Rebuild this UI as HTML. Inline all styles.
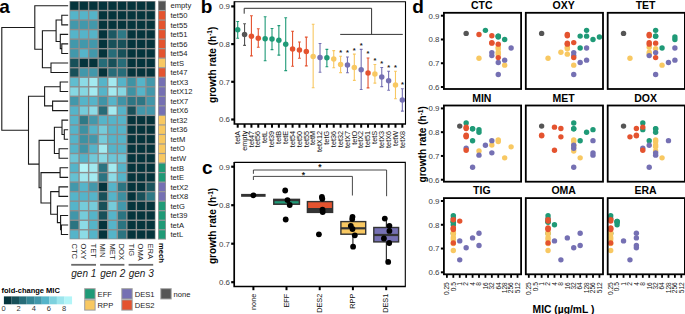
<!DOCTYPE html>
<html><head><meta charset="utf-8"><style>
html,body{margin:0;padding:0;background:#fff;width:685px;height:314px;overflow:hidden;}
svg{display:block;font-family:"Liberation Sans", sans-serif;}
</style></head><body>
<svg width="685" height="314" viewBox="0 0 685 314">
<rect width="685" height="314" fill="#fff"/>
<rect x="69.5" y="1.0" width="86.0" height="238.3" fill="#8d8d8d"/>
<rect x="70.20" y="1.70" width="8.16" height="8.13" fill="#05343c"/>
<rect x="79.76" y="1.70" width="8.16" height="8.13" fill="#05343c"/>
<rect x="89.31" y="1.70" width="8.16" height="8.13" fill="#05343c"/>
<rect x="98.87" y="1.70" width="8.16" height="8.13" fill="#05343c"/>
<rect x="108.42" y="1.70" width="8.16" height="8.13" fill="#05343c"/>
<rect x="117.98" y="1.70" width="8.16" height="8.13" fill="#05343c"/>
<rect x="127.53" y="1.70" width="8.16" height="8.13" fill="#05343c"/>
<rect x="137.09" y="1.70" width="8.16" height="8.13" fill="#05343c"/>
<rect x="146.64" y="1.70" width="8.16" height="8.13" fill="#05343c"/>
<rect x="70.20" y="11.23" width="8.16" height="8.13" fill="#55b4c9"/>
<rect x="79.76" y="11.23" width="8.16" height="8.13" fill="#55b4c9"/>
<rect x="89.31" y="11.23" width="8.16" height="8.13" fill="#55b4c9"/>
<rect x="98.87" y="11.23" width="8.16" height="8.13" fill="#05343c"/>
<rect x="108.42" y="11.23" width="8.16" height="8.13" fill="#05343c"/>
<rect x="117.98" y="11.23" width="8.16" height="8.13" fill="#05343c"/>
<rect x="127.53" y="11.23" width="8.16" height="8.13" fill="#05343c"/>
<rect x="137.09" y="11.23" width="8.16" height="8.13" fill="#05343c"/>
<rect x="146.64" y="11.23" width="8.16" height="8.13" fill="#05343c"/>
<rect x="70.20" y="20.76" width="8.16" height="8.13" fill="#4298ab"/>
<rect x="79.76" y="20.76" width="8.16" height="8.13" fill="#4298ab"/>
<rect x="89.31" y="20.76" width="8.16" height="8.13" fill="#4298ab"/>
<rect x="98.87" y="20.76" width="8.16" height="8.13" fill="#05343c"/>
<rect x="108.42" y="20.76" width="8.16" height="8.13" fill="#05343c"/>
<rect x="117.98" y="20.76" width="8.16" height="8.13" fill="#05343c"/>
<rect x="127.53" y="20.76" width="8.16" height="8.13" fill="#05343c"/>
<rect x="137.09" y="20.76" width="8.16" height="8.13" fill="#05343c"/>
<rect x="146.64" y="20.76" width="8.16" height="8.13" fill="#05343c"/>
<rect x="70.20" y="30.30" width="8.16" height="8.13" fill="#55b4c9"/>
<rect x="79.76" y="30.30" width="8.16" height="8.13" fill="#55b4c9"/>
<rect x="89.31" y="30.30" width="8.16" height="8.13" fill="#55b4c9"/>
<rect x="98.87" y="30.30" width="8.16" height="8.13" fill="#05343c"/>
<rect x="108.42" y="30.30" width="8.16" height="8.13" fill="#1c5862"/>
<rect x="117.98" y="30.30" width="8.16" height="8.13" fill="#2e7986"/>
<rect x="127.53" y="30.30" width="8.16" height="8.13" fill="#05343c"/>
<rect x="137.09" y="30.30" width="8.16" height="8.13" fill="#05343c"/>
<rect x="146.64" y="30.30" width="8.16" height="8.13" fill="#05343c"/>
<rect x="70.20" y="39.83" width="8.16" height="8.13" fill="#4298ab"/>
<rect x="79.76" y="39.83" width="8.16" height="8.13" fill="#4298ab"/>
<rect x="89.31" y="39.83" width="8.16" height="8.13" fill="#4298ab"/>
<rect x="98.87" y="39.83" width="8.16" height="8.13" fill="#05343c"/>
<rect x="108.42" y="39.83" width="8.16" height="8.13" fill="#185059"/>
<rect x="117.98" y="39.83" width="8.16" height="8.13" fill="#185059"/>
<rect x="127.53" y="39.83" width="8.16" height="8.13" fill="#05343c"/>
<rect x="137.09" y="39.83" width="8.16" height="8.13" fill="#05343c"/>
<rect x="146.64" y="39.83" width="8.16" height="8.13" fill="#05343c"/>
<rect x="70.20" y="49.36" width="8.16" height="8.13" fill="#4298ab"/>
<rect x="79.76" y="49.36" width="8.16" height="8.13" fill="#55b4c9"/>
<rect x="89.31" y="49.36" width="8.16" height="8.13" fill="#4298ab"/>
<rect x="98.87" y="49.36" width="8.16" height="8.13" fill="#05343c"/>
<rect x="108.42" y="49.36" width="8.16" height="8.13" fill="#276c78"/>
<rect x="117.98" y="49.36" width="8.16" height="8.13" fill="#185059"/>
<rect x="127.53" y="49.36" width="8.16" height="8.13" fill="#05343c"/>
<rect x="137.09" y="49.36" width="8.16" height="8.13" fill="#05343c"/>
<rect x="146.64" y="49.36" width="8.16" height="8.13" fill="#05343c"/>
<rect x="70.20" y="58.89" width="8.16" height="8.13" fill="#185059"/>
<rect x="79.76" y="58.89" width="8.16" height="8.13" fill="#05343c"/>
<rect x="89.31" y="58.89" width="8.16" height="8.13" fill="#05343c"/>
<rect x="98.87" y="58.89" width="8.16" height="8.13" fill="#276c78"/>
<rect x="108.42" y="58.89" width="8.16" height="8.13" fill="#185059"/>
<rect x="117.98" y="58.89" width="8.16" height="8.13" fill="#276c78"/>
<rect x="127.53" y="58.89" width="8.16" height="8.13" fill="#05343c"/>
<rect x="137.09" y="58.89" width="8.16" height="8.13" fill="#05343c"/>
<rect x="146.64" y="58.89" width="8.16" height="8.13" fill="#05343c"/>
<rect x="70.20" y="68.42" width="8.16" height="8.13" fill="#185059"/>
<rect x="79.76" y="68.42" width="8.16" height="8.13" fill="#4298ab"/>
<rect x="89.31" y="68.42" width="8.16" height="8.13" fill="#4298ab"/>
<rect x="98.87" y="68.42" width="8.16" height="8.13" fill="#05343c"/>
<rect x="108.42" y="68.42" width="8.16" height="8.13" fill="#276c78"/>
<rect x="117.98" y="68.42" width="8.16" height="8.13" fill="#276c78"/>
<rect x="127.53" y="68.42" width="8.16" height="8.13" fill="#05343c"/>
<rect x="137.09" y="68.42" width="8.16" height="8.13" fill="#05343c"/>
<rect x="146.64" y="68.42" width="8.16" height="8.13" fill="#05343c"/>
<rect x="70.20" y="77.96" width="8.16" height="8.13" fill="#61bdcf"/>
<rect x="79.76" y="77.96" width="8.16" height="8.13" fill="#8cdbe6"/>
<rect x="89.31" y="77.96" width="8.16" height="8.13" fill="#a3eaf0"/>
<rect x="98.87" y="77.96" width="8.16" height="8.13" fill="#55b4c9"/>
<rect x="108.42" y="77.96" width="8.16" height="8.13" fill="#a3eaf0"/>
<rect x="117.98" y="77.96" width="8.16" height="8.13" fill="#55b4c9"/>
<rect x="127.53" y="77.96" width="8.16" height="8.13" fill="#3e93a4"/>
<rect x="137.09" y="77.96" width="8.16" height="8.13" fill="#55b4c9"/>
<rect x="146.64" y="77.96" width="8.16" height="8.13" fill="#4298ab"/>
<rect x="70.20" y="87.49" width="8.16" height="8.13" fill="#86d7e2"/>
<rect x="79.76" y="87.49" width="8.16" height="8.13" fill="#86d7e2"/>
<rect x="89.31" y="87.49" width="8.16" height="8.13" fill="#a3eaf0"/>
<rect x="98.87" y="87.49" width="8.16" height="8.13" fill="#55b4c9"/>
<rect x="108.42" y="87.49" width="8.16" height="8.13" fill="#a3eaf0"/>
<rect x="117.98" y="87.49" width="8.16" height="8.13" fill="#86d7e2"/>
<rect x="127.53" y="87.49" width="8.16" height="8.13" fill="#3e93a4"/>
<rect x="137.09" y="87.49" width="8.16" height="8.13" fill="#55b4c9"/>
<rect x="146.64" y="87.49" width="8.16" height="8.13" fill="#4298ab"/>
<rect x="70.20" y="97.02" width="8.16" height="8.13" fill="#4298ab"/>
<rect x="79.76" y="97.02" width="8.16" height="8.13" fill="#55b4c9"/>
<rect x="89.31" y="97.02" width="8.16" height="8.13" fill="#55b4c9"/>
<rect x="98.87" y="97.02" width="8.16" height="8.13" fill="#3f94a7"/>
<rect x="108.42" y="97.02" width="8.16" height="8.13" fill="#55b4c9"/>
<rect x="117.98" y="97.02" width="8.16" height="8.13" fill="#3f94a7"/>
<rect x="127.53" y="97.02" width="8.16" height="8.13" fill="#2d7684"/>
<rect x="137.09" y="97.02" width="8.16" height="8.13" fill="#2d7684"/>
<rect x="146.64" y="97.02" width="8.16" height="8.13" fill="#4196a9"/>
<rect x="70.20" y="106.55" width="8.16" height="8.13" fill="#55b4c9"/>
<rect x="79.76" y="106.55" width="8.16" height="8.13" fill="#75cbda"/>
<rect x="89.31" y="106.55" width="8.16" height="8.13" fill="#8cdbe6"/>
<rect x="98.87" y="106.55" width="8.16" height="8.13" fill="#276c78"/>
<rect x="108.42" y="106.55" width="8.16" height="8.13" fill="#a3eaf0"/>
<rect x="117.98" y="106.55" width="8.16" height="8.13" fill="#55b4c9"/>
<rect x="127.53" y="106.55" width="8.16" height="8.13" fill="#185059"/>
<rect x="137.09" y="106.55" width="8.16" height="8.13" fill="#4298ab"/>
<rect x="146.64" y="106.55" width="8.16" height="8.13" fill="#4298ab"/>
<rect x="70.20" y="116.08" width="8.16" height="8.13" fill="#55b4c9"/>
<rect x="79.76" y="116.08" width="8.16" height="8.13" fill="#2e7986"/>
<rect x="89.31" y="116.08" width="8.16" height="8.13" fill="#4298ab"/>
<rect x="98.87" y="116.08" width="8.16" height="8.13" fill="#55b4c9"/>
<rect x="108.42" y="116.08" width="8.16" height="8.13" fill="#55b4c9"/>
<rect x="117.98" y="116.08" width="8.16" height="8.13" fill="#55b4c9"/>
<rect x="127.53" y="116.08" width="8.16" height="8.13" fill="#05343c"/>
<rect x="137.09" y="116.08" width="8.16" height="8.13" fill="#05343c"/>
<rect x="146.64" y="116.08" width="8.16" height="8.13" fill="#05343c"/>
<rect x="70.20" y="125.62" width="8.16" height="8.13" fill="#55b4c9"/>
<rect x="79.76" y="125.62" width="8.16" height="8.13" fill="#3d91a2"/>
<rect x="89.31" y="125.62" width="8.16" height="8.13" fill="#55b4c9"/>
<rect x="98.87" y="125.62" width="8.16" height="8.13" fill="#75cbda"/>
<rect x="108.42" y="125.62" width="8.16" height="8.13" fill="#55b4c9"/>
<rect x="117.98" y="125.62" width="8.16" height="8.13" fill="#55b4c9"/>
<rect x="127.53" y="125.62" width="8.16" height="8.13" fill="#05343c"/>
<rect x="137.09" y="125.62" width="8.16" height="8.13" fill="#05343c"/>
<rect x="146.64" y="125.62" width="8.16" height="8.13" fill="#05343c"/>
<rect x="70.20" y="135.15" width="8.16" height="8.13" fill="#55b4c9"/>
<rect x="79.76" y="135.15" width="8.16" height="8.13" fill="#3d91a2"/>
<rect x="89.31" y="135.15" width="8.16" height="8.13" fill="#4298ab"/>
<rect x="98.87" y="135.15" width="8.16" height="8.13" fill="#75cbda"/>
<rect x="108.42" y="135.15" width="8.16" height="8.13" fill="#55b4c9"/>
<rect x="117.98" y="135.15" width="8.16" height="8.13" fill="#55b4c9"/>
<rect x="127.53" y="135.15" width="8.16" height="8.13" fill="#05343c"/>
<rect x="137.09" y="135.15" width="8.16" height="8.13" fill="#05343c"/>
<rect x="146.64" y="135.15" width="8.16" height="8.13" fill="#05343c"/>
<rect x="70.20" y="144.68" width="8.16" height="8.13" fill="#55b4c9"/>
<rect x="79.76" y="144.68" width="8.16" height="8.13" fill="#3f94a7"/>
<rect x="89.31" y="144.68" width="8.16" height="8.13" fill="#55b4c9"/>
<rect x="98.87" y="144.68" width="8.16" height="8.13" fill="#a3eaf0"/>
<rect x="108.42" y="144.68" width="8.16" height="8.13" fill="#55b4c9"/>
<rect x="117.98" y="144.68" width="8.16" height="8.13" fill="#55b4c9"/>
<rect x="127.53" y="144.68" width="8.16" height="8.13" fill="#05343c"/>
<rect x="137.09" y="144.68" width="8.16" height="8.13" fill="#05343c"/>
<rect x="146.64" y="144.68" width="8.16" height="8.13" fill="#05343c"/>
<rect x="70.20" y="154.21" width="8.16" height="8.13" fill="#6dc5d6"/>
<rect x="79.76" y="154.21" width="8.16" height="8.13" fill="#55b4c9"/>
<rect x="89.31" y="154.21" width="8.16" height="8.13" fill="#71c8d8"/>
<rect x="98.87" y="154.21" width="8.16" height="8.13" fill="#89d9e4"/>
<rect x="108.42" y="154.21" width="8.16" height="8.13" fill="#6dc5d6"/>
<rect x="117.98" y="154.21" width="8.16" height="8.13" fill="#6dc5d6"/>
<rect x="127.53" y="154.21" width="8.16" height="8.13" fill="#05343c"/>
<rect x="137.09" y="154.21" width="8.16" height="8.13" fill="#05343c"/>
<rect x="146.64" y="154.21" width="8.16" height="8.13" fill="#05343c"/>
<rect x="70.20" y="163.74" width="8.16" height="8.13" fill="#55b4c9"/>
<rect x="79.76" y="163.74" width="8.16" height="8.13" fill="#b3f5f8"/>
<rect x="89.31" y="163.74" width="8.16" height="8.13" fill="#a1e8ef"/>
<rect x="98.87" y="163.74" width="8.16" height="8.13" fill="#2b7481"/>
<rect x="108.42" y="163.74" width="8.16" height="8.13" fill="#a3eaf0"/>
<rect x="117.98" y="163.74" width="8.16" height="8.13" fill="#55b4c9"/>
<rect x="127.53" y="163.74" width="8.16" height="8.13" fill="#05343c"/>
<rect x="137.09" y="163.74" width="8.16" height="8.13" fill="#05343c"/>
<rect x="146.64" y="163.74" width="8.16" height="8.13" fill="#05343c"/>
<rect x="70.20" y="173.28" width="8.16" height="8.13" fill="#65c0d1"/>
<rect x="79.76" y="173.28" width="8.16" height="8.13" fill="#a1e8ef"/>
<rect x="89.31" y="173.28" width="8.16" height="8.13" fill="#a3eaf0"/>
<rect x="98.87" y="173.28" width="8.16" height="8.13" fill="#2b7481"/>
<rect x="108.42" y="173.28" width="8.16" height="8.13" fill="#8cdbe6"/>
<rect x="117.98" y="173.28" width="8.16" height="8.13" fill="#55b4c9"/>
<rect x="127.53" y="173.28" width="8.16" height="8.13" fill="#05343c"/>
<rect x="137.09" y="173.28" width="8.16" height="8.13" fill="#05343c"/>
<rect x="146.64" y="173.28" width="8.16" height="8.13" fill="#05343c"/>
<rect x="70.20" y="182.81" width="8.16" height="8.13" fill="#4298ab"/>
<rect x="79.76" y="182.81" width="8.16" height="8.13" fill="#55b4c9"/>
<rect x="89.31" y="182.81" width="8.16" height="8.13" fill="#4298ab"/>
<rect x="98.87" y="182.81" width="8.16" height="8.13" fill="#05343c"/>
<rect x="108.42" y="182.81" width="8.16" height="8.13" fill="#55b4c9"/>
<rect x="117.98" y="182.81" width="8.16" height="8.13" fill="#2b7481"/>
<rect x="127.53" y="182.81" width="8.16" height="8.13" fill="#05343c"/>
<rect x="137.09" y="182.81" width="8.16" height="8.13" fill="#05343c"/>
<rect x="146.64" y="182.81" width="8.16" height="8.13" fill="#1a535c"/>
<rect x="70.20" y="192.34" width="8.16" height="8.13" fill="#55b4c9"/>
<rect x="79.76" y="192.34" width="8.16" height="8.13" fill="#55b4c9"/>
<rect x="89.31" y="192.34" width="8.16" height="8.13" fill="#55b4c9"/>
<rect x="98.87" y="192.34" width="8.16" height="8.13" fill="#185059"/>
<rect x="108.42" y="192.34" width="8.16" height="8.13" fill="#55b4c9"/>
<rect x="117.98" y="192.34" width="8.16" height="8.13" fill="#3c8fa0"/>
<rect x="127.53" y="192.34" width="8.16" height="8.13" fill="#05343c"/>
<rect x="137.09" y="192.34" width="8.16" height="8.13" fill="#185059"/>
<rect x="146.64" y="192.34" width="8.16" height="8.13" fill="#2e7986"/>
<rect x="70.20" y="201.87" width="8.16" height="8.13" fill="#55b4c9"/>
<rect x="79.76" y="201.87" width="8.16" height="8.13" fill="#75cbda"/>
<rect x="89.31" y="201.87" width="8.16" height="8.13" fill="#75cbda"/>
<rect x="98.87" y="201.87" width="8.16" height="8.13" fill="#185059"/>
<rect x="108.42" y="201.87" width="8.16" height="8.13" fill="#75cbda"/>
<rect x="117.98" y="201.87" width="8.16" height="8.13" fill="#4298ab"/>
<rect x="127.53" y="201.87" width="8.16" height="8.13" fill="#05343c"/>
<rect x="137.09" y="201.87" width="8.16" height="8.13" fill="#05343c"/>
<rect x="146.64" y="201.87" width="8.16" height="8.13" fill="#05343c"/>
<rect x="70.20" y="211.40" width="8.16" height="8.13" fill="#4196a9"/>
<rect x="79.76" y="211.40" width="8.16" height="8.13" fill="#75cbda"/>
<rect x="89.31" y="211.40" width="8.16" height="8.13" fill="#55b4c9"/>
<rect x="98.87" y="211.40" width="8.16" height="8.13" fill="#185059"/>
<rect x="108.42" y="211.40" width="8.16" height="8.13" fill="#55b4c9"/>
<rect x="117.98" y="211.40" width="8.16" height="8.13" fill="#2b7481"/>
<rect x="127.53" y="211.40" width="8.16" height="8.13" fill="#05343c"/>
<rect x="137.09" y="211.40" width="8.16" height="8.13" fill="#05343c"/>
<rect x="146.64" y="211.40" width="8.16" height="8.13" fill="#05343c"/>
<rect x="70.20" y="220.94" width="8.16" height="8.13" fill="#2b7481"/>
<rect x="79.76" y="220.94" width="8.16" height="8.13" fill="#8cdbe6"/>
<rect x="89.31" y="220.94" width="8.16" height="8.13" fill="#55b4c9"/>
<rect x="98.87" y="220.94" width="8.16" height="8.13" fill="#05343c"/>
<rect x="108.42" y="220.94" width="8.16" height="8.13" fill="#55b4c9"/>
<rect x="117.98" y="220.94" width="8.16" height="8.13" fill="#2b7481"/>
<rect x="127.53" y="220.94" width="8.16" height="8.13" fill="#05343c"/>
<rect x="137.09" y="220.94" width="8.16" height="8.13" fill="#05343c"/>
<rect x="146.64" y="220.94" width="8.16" height="8.13" fill="#05343c"/>
<rect x="70.20" y="230.47" width="8.16" height="8.13" fill="#55b4c9"/>
<rect x="79.76" y="230.47" width="8.16" height="8.13" fill="#8cdbe6"/>
<rect x="89.31" y="230.47" width="8.16" height="8.13" fill="#55b4c9"/>
<rect x="98.87" y="230.47" width="8.16" height="8.13" fill="#05343c"/>
<rect x="108.42" y="230.47" width="8.16" height="8.13" fill="#55b4c9"/>
<rect x="117.98" y="230.47" width="8.16" height="8.13" fill="#2b7481"/>
<rect x="127.53" y="230.47" width="8.16" height="8.13" fill="#05343c"/>
<rect x="137.09" y="230.47" width="8.16" height="8.13" fill="#05343c"/>
<rect x="146.64" y="230.47" width="8.16" height="8.13" fill="#05343c"/>
<rect x="158.0" y="0.7" width="8.0" height="238.9" fill="#9a9a9a"/>
<rect x="158.8" y="1.60" width="6.4" height="8.33" fill="#555555"/>
<rect x="158.8" y="11.13" width="6.4" height="8.33" fill="#e4532f"/>
<rect x="158.8" y="20.66" width="6.4" height="8.33" fill="#e4532f"/>
<rect x="158.8" y="30.20" width="6.4" height="8.33" fill="#e4532f"/>
<rect x="158.8" y="39.73" width="6.4" height="8.33" fill="#e4532f"/>
<rect x="158.8" y="49.26" width="6.4" height="8.33" fill="#e4532f"/>
<rect x="158.8" y="58.79" width="6.4" height="8.33" fill="#f8c862"/>
<rect x="158.8" y="68.32" width="6.4" height="8.33" fill="#e4532f"/>
<rect x="158.8" y="77.86" width="6.4" height="8.33" fill="#7570b3"/>
<rect x="158.8" y="87.39" width="6.4" height="8.33" fill="#7570b3"/>
<rect x="158.8" y="96.92" width="6.4" height="8.33" fill="#7570b3"/>
<rect x="158.8" y="106.45" width="6.4" height="8.33" fill="#7570b3"/>
<rect x="158.8" y="115.98" width="6.4" height="8.33" fill="#f8c862"/>
<rect x="158.8" y="125.52" width="6.4" height="8.33" fill="#f8c862"/>
<rect x="158.8" y="135.05" width="6.4" height="8.33" fill="#f8c862"/>
<rect x="158.8" y="144.58" width="6.4" height="8.33" fill="#f8c862"/>
<rect x="158.8" y="154.11" width="6.4" height="8.33" fill="#f8c862"/>
<rect x="158.8" y="163.64" width="6.4" height="8.33" fill="#1f9a77"/>
<rect x="158.8" y="173.18" width="6.4" height="8.33" fill="#1f9a77"/>
<rect x="158.8" y="182.71" width="6.4" height="8.33" fill="#7570b3"/>
<rect x="158.8" y="192.24" width="6.4" height="8.33" fill="#7570b3"/>
<rect x="158.8" y="201.77" width="6.4" height="8.33" fill="#1f9a77"/>
<rect x="158.8" y="211.30" width="6.4" height="8.33" fill="#1f9a77"/>
<rect x="158.8" y="220.84" width="6.4" height="8.33" fill="#1f9a77"/>
<rect x="158.8" y="230.37" width="6.4" height="8.33" fill="#1f9a77"/>
<text x="170.5" y="8.47" font-size="7.6" fill="#1a1a1a">empty</text>
<text x="170.5" y="18.00" font-size="7.6" fill="#1a1a1a">tet50</text>
<text x="170.5" y="27.53" font-size="7.6" fill="#1a1a1a">tet55</text>
<text x="170.5" y="37.06" font-size="7.6" fill="#1a1a1a">tet51</text>
<text x="170.5" y="46.59" font-size="7.6" fill="#1a1a1a">tet56</text>
<text x="170.5" y="56.13" font-size="7.6" fill="#1a1a1a">tet54</text>
<text x="170.5" y="65.66" font-size="7.6" fill="#1a1a1a">tetS</text>
<text x="170.5" y="75.19" font-size="7.6" fill="#1a1a1a">tet47</text>
<text x="170.5" y="84.72" font-size="7.6" fill="#1a1a1a">tetX3</text>
<text x="170.5" y="94.25" font-size="7.6" fill="#1a1a1a">tetX12</text>
<text x="170.5" y="103.79" font-size="7.6" fill="#1a1a1a">tetX7</text>
<text x="170.5" y="113.32" font-size="7.6" fill="#1a1a1a">tetX6</text>
<text x="170.5" y="122.85" font-size="7.6" fill="#1a1a1a">tet32</text>
<text x="170.5" y="132.38" font-size="7.6" fill="#1a1a1a">tet36</text>
<text x="170.5" y="141.91" font-size="7.6" fill="#1a1a1a">tetM</text>
<text x="170.5" y="151.45" font-size="7.6" fill="#1a1a1a">tetO</text>
<text x="170.5" y="160.98" font-size="7.6" fill="#1a1a1a">tetW</text>
<text x="170.5" y="170.51" font-size="7.6" fill="#1a1a1a">tetB</text>
<text x="170.5" y="180.04" font-size="7.6" fill="#1a1a1a">tetE</text>
<text x="170.5" y="189.57" font-size="7.6" fill="#1a1a1a">tetX2</text>
<text x="170.5" y="199.11" font-size="7.6" fill="#1a1a1a">tetX8</text>
<text x="170.5" y="208.64" font-size="7.6" fill="#1a1a1a">tetG</text>
<text x="170.5" y="218.17" font-size="7.6" fill="#1a1a1a">tet39</text>
<text x="170.5" y="227.70" font-size="7.6" fill="#1a1a1a">tetA</text>
<text x="170.5" y="237.23" font-size="7.6" fill="#1a1a1a">tetL</text>
<text transform="translate(71.58,243.5) rotate(90)" font-size="7.6" fill="#1a1a1a">CTC</text>
<text transform="translate(81.13,243.5) rotate(90)" font-size="7.6" fill="#1a1a1a">OXY</text>
<text transform="translate(90.69,243.5) rotate(90)" font-size="7.6" fill="#1a1a1a">TET</text>
<text transform="translate(100.24,243.5) rotate(90)" font-size="7.6" fill="#1a1a1a">MIN</text>
<text transform="translate(109.80,243.5) rotate(90)" font-size="7.6" fill="#1a1a1a">MET</text>
<text transform="translate(119.36,243.5) rotate(90)" font-size="7.6" fill="#1a1a1a">DOX</text>
<text transform="translate(128.91,243.5) rotate(90)" font-size="7.6" fill="#1a1a1a">TIG</text>
<text transform="translate(138.47,243.5) rotate(90)" font-size="7.6" fill="#1a1a1a">OMA</text>
<text transform="translate(148.02,243.5) rotate(90)" font-size="7.6" fill="#1a1a1a">ERA</text>
<text transform="translate(159.30,243.0) rotate(90)" font-size="7.6" font-weight="bold" fill="#000">mech</text>
<rect x="71.2" y="263.9" width="24.80" height="1.8" fill="#6a6a6a"/>
<rect x="100.1" y="263.9" width="24.30" height="1.8" fill="#6a6a6a"/>
<rect x="128.6" y="263.9" width="24.60" height="1.8" fill="#6a6a6a"/>
<text x="71.3" y="276.6" font-size="10" font-style="italic" fill="#1a1a1a">gen 1</text>
<text x="100.2" y="276.6" font-size="10" font-style="italic" fill="#1a1a1a">gen 2</text>
<text x="128.7" y="276.6" font-size="10" font-style="italic" fill="#1a1a1a">gen 3</text>
<path d="M61.80 15.30L61.80 24.83M61.80 15.30L67.60 15.30M61.80 24.83L67.60 24.83M61.80 43.89L61.80 53.43M61.80 43.89L67.60 43.89M61.80 53.43L67.60 53.43M60.30 34.36L60.30 48.66M60.30 34.36L67.60 34.36M60.30 48.66L61.80 48.66M56.10 20.06L56.10 41.51M56.10 20.06L61.80 20.06M56.10 41.51L60.30 41.51M51.00 62.96L51.00 72.49M51.00 62.96L67.60 62.96M51.00 72.49L67.60 72.49M42.40 30.79L42.40 67.72M42.40 30.79L56.10 30.79M42.40 67.72L51.00 67.72M34.80 5.77L34.80 49.26M34.80 5.77L67.60 5.77M34.80 49.26L42.40 49.26M60.20 82.02L60.20 91.55M60.20 82.02L67.60 82.02M60.20 91.55L67.60 91.55M52.60 101.09L52.60 110.62M52.60 101.09L67.60 101.09M52.60 110.62L67.60 110.62M44.60 86.79L44.60 105.85M44.60 86.79L60.20 86.79M44.60 105.85L52.60 105.85M64.30 129.68L64.30 139.21M64.30 129.68L67.60 129.68M64.30 139.21L67.60 139.21M62.00 120.15L62.00 134.45M62.00 120.15L67.60 120.15M62.00 134.45L64.30 134.45M59.10 148.75L59.10 158.28M59.10 148.75L67.60 148.75M59.10 158.28L67.60 158.28M54.40 127.30L54.40 153.51M54.40 127.30L62.00 127.30M54.40 153.51L59.10 153.51M60.10 167.81L60.10 177.34M60.10 167.81L67.60 167.81M60.10 177.34L67.60 177.34M59.00 186.87L59.00 196.41M59.00 186.87L67.60 186.87M59.00 196.41L67.60 196.41M61.40 225.00L61.40 234.53M61.40 225.00L67.60 225.00M61.40 234.53L67.60 234.53M60.60 215.47L60.60 229.77M60.60 215.47L67.60 215.47M60.60 229.77L61.40 229.77M57.40 205.94L57.40 222.62M57.40 205.94L67.60 205.94M57.40 222.62L60.60 222.62M50.70 191.64L50.70 214.28M50.70 191.64L59.00 191.64M50.70 214.28L57.40 214.28M41.00 172.58L41.00 202.96M41.00 172.58L60.10 172.58M41.00 202.96L50.70 202.96M39.10 140.41L39.10 187.77M39.10 140.41L54.40 140.41M39.10 187.77L41.00 187.77M28.50 96.32L28.50 164.09M28.50 96.32L44.60 96.32M28.50 164.09L39.10 164.09M1.80 27.51L1.80 130.20M1.80 27.51L34.80 27.51M1.80 130.20L28.50 130.20" stroke="#1a1a1a" stroke-width="1.1" fill="none" stroke-linecap="square"/>
<text x="-0.7" y="12.9" font-size="19" font-weight="bold" fill="#000">a</text>
<text x="1.5" y="293.2" font-size="7.5" font-weight="bold" fill="#000">fold-change MIC</text>
<rect x="3.90" y="296.4" width="7.62" height="7.9" fill="#05343c"/>
<rect x="11.47" y="296.4" width="7.62" height="7.9" fill="#185059"/>
<rect x="19.03" y="296.4" width="7.62" height="7.9" fill="#276c78"/>
<rect x="26.60" y="296.4" width="7.62" height="7.9" fill="#358695"/>
<rect x="34.17" y="296.4" width="7.62" height="7.9" fill="#4298ab"/>
<rect x="41.73" y="296.4" width="7.62" height="7.9" fill="#55b4c9"/>
<rect x="49.30" y="296.4" width="7.62" height="7.9" fill="#7dd1de"/>
<rect x="56.87" y="296.4" width="7.62" height="7.9" fill="#9ce5ed"/>
<rect x="64.43" y="296.4" width="7.62" height="7.9" fill="#b3f5f8"/>
<text x="3.50" y="311.2" font-size="7.5" text-anchor="middle" fill="#333">0</text>
<text x="18.63" y="311.2" font-size="7.5" text-anchor="middle" fill="#333">2</text>
<text x="33.77" y="311.2" font-size="7.5" text-anchor="middle" fill="#333">4</text>
<text x="48.90" y="311.2" font-size="7.5" text-anchor="middle" fill="#333">6</text>
<text x="64.03" y="311.2" font-size="7.5" text-anchor="middle" fill="#333">8</text>
<rect x="84.2" y="288.2" width="11.4" height="11.2" fill="#9a9a9a"/>
<rect x="85.2" y="289.2" width="9.4" height="9.2" fill="#1f9a77"/>
<rect x="84.2" y="299.4" width="11.4" height="11.2" fill="#9a9a9a"/>
<rect x="85.2" y="300.4" width="9.4" height="9.2" fill="#f8c862"/>
<rect x="121.3" y="288.2" width="11.4" height="11.2" fill="#9a9a9a"/>
<rect x="122.3" y="289.2" width="9.4" height="9.2" fill="#7570b3"/>
<rect x="121.3" y="299.4" width="11.4" height="11.2" fill="#9a9a9a"/>
<rect x="122.3" y="300.4" width="9.4" height="9.2" fill="#e4532f"/>
<rect x="160.3" y="288.2" width="11.4" height="11.2" fill="#9a9a9a"/>
<rect x="161.3" y="289.2" width="9.4" height="9.2" fill="#555555"/>
<text x="97.6" y="296.7" font-size="7.6" fill="#1a1a1a">EFF</text>
<text x="97.6" y="307.9" font-size="7.6" fill="#1a1a1a">RPP</text>
<text x="134.7" y="296.7" font-size="7.6" fill="#1a1a1a">DES1</text>
<text x="134.7" y="307.9" font-size="7.6" fill="#1a1a1a">DES2</text>
<text x="173.5" y="296.7" font-size="7.6" fill="#1a1a1a">none</text>
<text x="200.7" y="12.9" font-size="19" font-weight="bold" fill="#000">b</text>
<path d="M234.4 1.7H405.5V124.0" stroke="#000" stroke-width="1.1" fill="none"/>
<path d="M234.4 1.2V124.0H406.0" stroke="#000" stroke-width="1.7" fill="none"/>
<rect x="231.2" y="5.30" width="3" height="2.2" fill="#000"/>
<text x="230.0" y="9.20" font-size="7.9" text-anchor="end" fill="#3d3d3d">0.9</text>
<rect x="231.2" y="43.00" width="3" height="2.2" fill="#000"/>
<text x="230.0" y="46.90" font-size="7.9" text-anchor="end" fill="#3d3d3d">0.8</text>
<rect x="231.2" y="80.70" width="3" height="2.2" fill="#000"/>
<text x="230.0" y="84.60" font-size="7.9" text-anchor="end" fill="#3d3d3d">0.7</text>
<rect x="231.2" y="118.40" width="3" height="2.2" fill="#000"/>
<text x="230.0" y="122.30" font-size="7.9" text-anchor="end" fill="#3d3d3d">0.6</text>
<text transform="translate(215.5,103.0) rotate(-90)" font-size="10.08" font-weight="bold" fill="#000">growth rate (h<tspan font-size="6.5" dy="-3.5">-1</tspan><tspan dy="3.5">)</tspan></text>
<path d="M237.70 21.5V38.3M236.30 21.5H239.10M236.30 38.3H239.10" stroke="#1f9a77" stroke-width="1.1" fill="none"/>
<circle cx="237.70" cy="29.7" r="2.75" fill="#1f9a77"/>
<rect x="236.70" y="124.0" width="2.0" height="3.7" fill="#000"/>
<text transform="translate(239.90,130.9) rotate(-90)" font-size="7.3" text-anchor="end" fill="#111">tetA</text>
<path d="M244.56 23.8V45.4M243.16 23.8H245.96M243.16 45.4H245.96" stroke="#555555" stroke-width="1.1" fill="none"/>
<circle cx="244.56" cy="34.5" r="2.75" fill="#555555"/>
<rect x="243.56" y="124.0" width="2.0" height="3.7" fill="#000"/>
<text transform="translate(246.76,130.9) rotate(-90)" font-size="7.3" text-anchor="end" fill="#111">empty</text>
<path d="M251.42 15.7V55.9M250.02 15.7H252.82M250.02 55.9H252.82" stroke="#e4532f" stroke-width="1.1" fill="none"/>
<circle cx="251.42" cy="36.2" r="2.75" fill="#e4532f"/>
<rect x="250.42" y="124.0" width="2.0" height="3.7" fill="#000"/>
<text transform="translate(253.62,130.9) rotate(-90)" font-size="7.3" text-anchor="end" fill="#111">tet47</text>
<path d="M258.28 28.8V47.3M256.88 28.8H259.68M256.88 47.3H259.68" stroke="#e4532f" stroke-width="1.1" fill="none"/>
<circle cx="258.28" cy="38.3" r="2.75" fill="#e4532f"/>
<rect x="257.28" y="124.0" width="2.0" height="3.7" fill="#000"/>
<text transform="translate(260.48,130.9) rotate(-90)" font-size="7.3" text-anchor="end" fill="#111">tet56</text>
<path d="M265.14 16.7V60.8M263.74 16.7H266.54M263.74 60.8H266.54" stroke="#1f9a77" stroke-width="1.1" fill="none"/>
<circle cx="265.14" cy="38.8" r="2.75" fill="#1f9a77"/>
<rect x="264.14" y="124.0" width="2.0" height="3.7" fill="#000"/>
<text transform="translate(267.34,130.9) rotate(-90)" font-size="7.3" text-anchor="end" fill="#111">tetL</text>
<path d="M272.00 28.5V49.6M270.60 28.5H273.40M270.60 49.6H273.40" stroke="#1f9a77" stroke-width="1.1" fill="none"/>
<circle cx="272.00" cy="38.9" r="2.75" fill="#1f9a77"/>
<rect x="271.00" y="124.0" width="2.0" height="3.7" fill="#000"/>
<text transform="translate(274.20,130.9) rotate(-90)" font-size="7.3" text-anchor="end" fill="#111">tet39</text>
<path d="M278.86 25.6V55.1M277.46 25.6H280.26M277.46 55.1H280.26" stroke="#1f9a77" stroke-width="1.1" fill="none"/>
<circle cx="278.86" cy="40.2" r="2.75" fill="#1f9a77"/>
<rect x="277.86" y="124.0" width="2.0" height="3.7" fill="#000"/>
<text transform="translate(281.06,130.9) rotate(-90)" font-size="7.3" text-anchor="end" fill="#111">tetB</text>
<path d="M285.72 17.8V70.6M284.32 17.8H287.12M284.32 70.6H287.12" stroke="#1f9a77" stroke-width="1.1" fill="none"/>
<circle cx="285.72" cy="44.2" r="2.75" fill="#1f9a77"/>
<rect x="284.72" y="124.0" width="2.0" height="3.7" fill="#000"/>
<text transform="translate(287.92,130.9) rotate(-90)" font-size="7.3" text-anchor="end" fill="#111">tetE</text>
<path d="M292.58 31.2V66.3M291.18 31.2H293.98M291.18 66.3H293.98" stroke="#e4532f" stroke-width="1.1" fill="none"/>
<circle cx="292.58" cy="49.1" r="2.75" fill="#e4532f"/>
<rect x="291.58" y="124.0" width="2.0" height="3.7" fill="#000"/>
<text transform="translate(294.78,130.9) rotate(-90)" font-size="7.3" text-anchor="end" fill="#111">tet54</text>
<path d="M299.44 42.0V58.2M298.04 42.0H300.84M298.04 58.2H300.84" stroke="#e4532f" stroke-width="1.1" fill="none"/>
<circle cx="299.44" cy="50.0" r="2.75" fill="#e4532f"/>
<rect x="298.44" y="124.0" width="2.0" height="3.7" fill="#000"/>
<text transform="translate(301.64,130.9) rotate(-90)" font-size="7.3" text-anchor="end" fill="#111">tet50</text>
<path d="M306.30 37.1V65.9M304.90 37.1H307.70M304.90 65.9H307.70" stroke="#e4532f" stroke-width="1.1" fill="none"/>
<circle cx="306.30" cy="51.6" r="2.75" fill="#e4532f"/>
<rect x="305.30" y="124.0" width="2.0" height="3.7" fill="#000"/>
<text transform="translate(308.50,130.9) rotate(-90)" font-size="7.3" text-anchor="end" fill="#111">tet55</text>
<path d="M313.16 24.3V87.7M311.76 24.3H314.56M311.76 87.7H314.56" stroke="#f8c862" stroke-width="1.1" fill="none"/>
<circle cx="313.16" cy="56.4" r="2.75" fill="#f8c862"/>
<rect x="312.16" y="124.0" width="2.0" height="3.7" fill="#000"/>
<text transform="translate(315.36,130.9) rotate(-90)" font-size="7.3" text-anchor="end" fill="#111">tetM</text>
<path d="M320.02 43.5V72.2M318.62 43.5H321.42M318.62 72.2H321.42" stroke="#7570b3" stroke-width="1.1" fill="none"/>
<circle cx="320.02" cy="57.6" r="2.75" fill="#7570b3"/>
<rect x="319.02" y="124.0" width="2.0" height="3.7" fill="#000"/>
<text transform="translate(322.22,130.9) rotate(-90)" font-size="7.3" text-anchor="end" fill="#111">tetX12</text>
<path d="M326.88 49.4V66.7M325.48 49.4H328.28M325.48 66.7H328.28" stroke="#1f9a77" stroke-width="1.1" fill="none"/>
<circle cx="326.88" cy="57.8" r="2.75" fill="#1f9a77"/>
<rect x="325.88" y="124.0" width="2.0" height="3.7" fill="#000"/>
<text transform="translate(329.08,130.9) rotate(-90)" font-size="7.3" text-anchor="end" fill="#111">tetG</text>
<path d="M333.74 50.6V67.8M332.34 50.6H335.14M332.34 67.8H335.14" stroke="#f8c862" stroke-width="1.1" fill="none"/>
<circle cx="333.74" cy="59.0" r="2.75" fill="#f8c862"/>
<rect x="332.74" y="124.0" width="2.0" height="3.7" fill="#000"/>
<text transform="translate(335.94,130.9) rotate(-90)" font-size="7.3" text-anchor="end" fill="#111">tet36</text>
<path d="M340.60 56.2V72.6M339.20 56.2H342.00M339.20 72.6H342.00" stroke="#f8c862" stroke-width="1.1" fill="none"/>
<circle cx="340.60" cy="64.5" r="2.75" fill="#f8c862"/>
<rect x="339.60" y="124.0" width="2.0" height="3.7" fill="#000"/>
<text transform="translate(342.80,130.9) rotate(-90)" font-size="7.3" text-anchor="end" fill="#111">tet32</text>
<path d="M347.46 57.0V72.7M346.06 57.0H348.86M346.06 72.7H348.86" stroke="#7570b3" stroke-width="1.1" fill="none"/>
<circle cx="347.46" cy="65.0" r="2.75" fill="#7570b3"/>
<rect x="346.46" y="124.0" width="2.0" height="3.7" fill="#000"/>
<text transform="translate(349.66,130.9) rotate(-90)" font-size="7.3" text-anchor="end" fill="#111">tetX7</text>
<path d="M354.32 54.1V80.4M352.92 54.1H355.72M352.92 80.4H355.72" stroke="#f8c862" stroke-width="1.1" fill="none"/>
<circle cx="354.32" cy="67.5" r="2.75" fill="#f8c862"/>
<rect x="353.32" y="124.0" width="2.0" height="3.7" fill="#000"/>
<text transform="translate(356.52,130.9) rotate(-90)" font-size="7.3" text-anchor="end" fill="#111">tetO</text>
<path d="M361.18 49.4V89.5M359.78 49.4H362.58M359.78 89.5H362.58" stroke="#7570b3" stroke-width="1.1" fill="none"/>
<circle cx="361.18" cy="69.8" r="2.75" fill="#7570b3"/>
<rect x="360.18" y="124.0" width="2.0" height="3.7" fill="#000"/>
<text transform="translate(363.38,130.9) rotate(-90)" font-size="7.3" text-anchor="end" fill="#111">tetX2</text>
<path d="M368.04 58.0V87.9M366.64 58.0H369.44M366.64 87.9H369.44" stroke="#e4532f" stroke-width="1.1" fill="none"/>
<circle cx="368.04" cy="73.0" r="2.75" fill="#e4532f"/>
<rect x="367.04" y="124.0" width="2.0" height="3.7" fill="#000"/>
<text transform="translate(370.24,130.9) rotate(-90)" font-size="7.3" text-anchor="end" fill="#111">tet51</text>
<path d="M374.90 64.5V83.1M373.50 64.5H376.30M373.50 83.1H376.30" stroke="#f8c862" stroke-width="1.1" fill="none"/>
<circle cx="374.90" cy="74.0" r="2.75" fill="#f8c862"/>
<rect x="373.90" y="124.0" width="2.0" height="3.7" fill="#000"/>
<text transform="translate(377.10,130.9) rotate(-90)" font-size="7.3" text-anchor="end" fill="#111">tetS</text>
<path d="M381.76 67.5V86.6M380.36 67.5H383.16M380.36 86.6H383.16" stroke="#7570b3" stroke-width="1.1" fill="none"/>
<circle cx="381.76" cy="77.0" r="2.75" fill="#7570b3"/>
<rect x="380.76" y="124.0" width="2.0" height="3.7" fill="#000"/>
<text transform="translate(383.96,130.9) rotate(-90)" font-size="7.3" text-anchor="end" fill="#111">tetX3</text>
<path d="M388.62 71.3V90.2M387.22 71.3H390.02M387.22 90.2H390.02" stroke="#7570b3" stroke-width="1.1" fill="none"/>
<circle cx="388.62" cy="80.7" r="2.75" fill="#7570b3"/>
<rect x="387.62" y="124.0" width="2.0" height="3.7" fill="#000"/>
<text transform="translate(390.82,130.9) rotate(-90)" font-size="7.3" text-anchor="end" fill="#111">tetX6</text>
<path d="M395.48 71.3V98.8M394.08 71.3H396.88M394.08 98.8H396.88" stroke="#f8c862" stroke-width="1.1" fill="none"/>
<circle cx="395.48" cy="85.0" r="2.75" fill="#f8c862"/>
<rect x="394.48" y="124.0" width="2.0" height="3.7" fill="#000"/>
<text transform="translate(397.68,130.9) rotate(-90)" font-size="7.3" text-anchor="end" fill="#111">tetW</text>
<path d="M402.34 88.7V111.1M400.94 88.7H403.74M400.94 111.1H403.74" stroke="#7570b3" stroke-width="1.1" fill="none"/>
<circle cx="402.34" cy="99.9" r="2.75" fill="#7570b3"/>
<rect x="401.34" y="124.0" width="2.0" height="3.7" fill="#000"/>
<text transform="translate(404.54,130.9) rotate(-90)" font-size="7.3" text-anchor="end" fill="#111">tetX8</text>
<text x="340.60" y="54.60" font-size="7.5" font-weight="bold" text-anchor="middle" fill="#1a1a1a">*</text>
<text x="347.46" y="55.40" font-size="7.5" font-weight="bold" text-anchor="middle" fill="#1a1a1a">*</text>
<text x="354.32" y="52.50" font-size="7.5" font-weight="bold" text-anchor="middle" fill="#1a1a1a">*</text>
<text x="361.18" y="47.80" font-size="7.5" font-weight="bold" text-anchor="middle" fill="#1a1a1a">*</text>
<text x="368.04" y="56.40" font-size="7.5" font-weight="bold" text-anchor="middle" fill="#1a1a1a">*</text>
<text x="374.90" y="62.90" font-size="7.5" font-weight="bold" text-anchor="middle" fill="#1a1a1a">*</text>
<text x="381.76" y="65.90" font-size="7.5" font-weight="bold" text-anchor="middle" fill="#1a1a1a">*</text>
<text x="388.62" y="69.70" font-size="7.5" font-weight="bold" text-anchor="middle" fill="#1a1a1a">*</text>
<text x="395.48" y="69.70" font-size="7.5" font-weight="bold" text-anchor="middle" fill="#1a1a1a">*</text>
<text x="402.34" y="87.10" font-size="7.5" font-weight="bold" text-anchor="middle" fill="#1a1a1a">*</text>
<path d="M244.2 13.7V8.3H371.6V34.4M340.2 34.4H402.8" stroke="#333" stroke-width="1.0" fill="none"/>
<text x="201.9" y="173.8" font-size="19" font-weight="bold" fill="#000">c</text>
<path d="M234.2 162.4H405.3V286.5" stroke="#000" stroke-width="1.1" fill="none"/>
<path d="M234.2 161.9V286.5H405.8" stroke="#000" stroke-width="1.7" fill="none"/>
<rect x="231.2" y="165.60" width="3" height="2.2" fill="#000"/>
<text x="230.0" y="169.50" font-size="7.9" text-anchor="end" fill="#3d3d3d">0.9</text>
<rect x="231.2" y="204.10" width="3" height="2.2" fill="#000"/>
<text x="230.0" y="208.00" font-size="7.9" text-anchor="end" fill="#3d3d3d">0.8</text>
<rect x="231.2" y="242.60" width="3" height="2.2" fill="#000"/>
<text x="230.0" y="246.50" font-size="7.9" text-anchor="end" fill="#3d3d3d">0.7</text>
<rect x="231.2" y="281.10" width="3" height="2.2" fill="#000"/>
<text x="230.0" y="285.00" font-size="7.9" text-anchor="end" fill="#3d3d3d">0.6</text>
<text transform="translate(216.3,264.1) rotate(-90)" font-size="10.08" font-weight="bold" fill="#000">growth rate (h<tspan font-size="6.5" dy="-3.5">-1</tspan><tspan dy="3.5">)</tspan></text>
<rect x="252.40" y="286.5" width="2.0" height="3.7" fill="#000"/>
<text transform="translate(255.60,293.7) rotate(-90)" font-size="7.3" text-anchor="end" fill="#111">none</text>
<rect x="285.50" y="286.5" width="2.0" height="3.7" fill="#000"/>
<text transform="translate(288.70,293.7) rotate(-90)" font-size="7.3" text-anchor="end" fill="#111">EFF</text>
<rect x="318.70" y="286.5" width="2.0" height="3.7" fill="#000"/>
<text transform="translate(321.90,293.7) rotate(-90)" font-size="7.3" text-anchor="end" fill="#111">DES2</text>
<rect x="351.90" y="286.5" width="2.0" height="3.7" fill="#000"/>
<text transform="translate(355.10,293.7) rotate(-90)" font-size="7.3" text-anchor="end" fill="#111">RPP</text>
<rect x="385.20" y="286.5" width="2.0" height="3.7" fill="#000"/>
<text transform="translate(388.40,293.7) rotate(-90)" font-size="7.3" text-anchor="end" fill="#111">DES1</text>
<rect x="241.1" y="193.9" width="24.5" height="2.9" fill="#333"/>
<rect x="273.8" y="199.4" width="25.6" height="4.8" fill="#1f9a77" stroke="#333" stroke-width="1.5"/>
<rect x="273.8" y="200.0" width="25.6" height="1.2" fill="#333"/>
<rect x="307.4" y="201.6" width="25.2" height="10.8" fill="#e4532f" stroke="#333" stroke-width="1.4"/>
<rect x="307.4" y="208.0" width="25.2" height="4.0" fill="#333"/>
<path d="M352.9 216.5V221.4M352.9 234.4V246.5" stroke="#333" stroke-width="1.2"/>
<rect x="340.9" y="221.6" width="24.8" height="12.6" fill="#f8c862" stroke="#333" stroke-width="1.4"/>
<rect x="340.9" y="227.2" width="24.8" height="2.2" fill="#333"/>
<path d="M386.4 218.5V227.4M386.4 242.0V261.8" stroke="#333" stroke-width="1.2"/>
<rect x="373.8" y="227.5" width="24.8" height="14.4" fill="#7570b3" stroke="#333" stroke-width="1.4"/>
<rect x="373.8" y="233.9" width="24.8" height="2.2" fill="#333"/>
<circle cx="253.4" cy="195.3" r="2.9" fill="#000"/>
<circle cx="285.2" cy="190.5" r="2.9" fill="#000"/>
<circle cx="287.5" cy="200.1" r="2.9" fill="#000"/>
<circle cx="289.7" cy="205.0" r="2.9" fill="#000"/>
<circle cx="285.7" cy="219.5" r="2.9" fill="#000"/>
<circle cx="321.9" cy="196.9" r="2.9" fill="#000"/>
<circle cx="322.3" cy="198.8" r="2.9" fill="#000"/>
<circle cx="322.5" cy="209.6" r="2.9" fill="#000"/>
<circle cx="322.7" cy="212.0" r="2.9" fill="#000"/>
<circle cx="318.9" cy="234.3" r="2.9" fill="#000"/>
<circle cx="352.5" cy="216.8" r="2.9" fill="#000"/>
<circle cx="352.2" cy="219.1" r="2.9" fill="#000"/>
<circle cx="350.8" cy="225.8" r="2.9" fill="#000"/>
<circle cx="352.5" cy="229.0" r="2.9" fill="#000"/>
<circle cx="354.8" cy="235.3" r="2.9" fill="#000"/>
<circle cx="353.1" cy="246.7" r="2.9" fill="#000"/>
<circle cx="384.8" cy="218.6" r="2.9" fill="#000"/>
<circle cx="389.4" cy="225.8" r="2.9" fill="#000"/>
<circle cx="389.4" cy="230.9" r="2.9" fill="#000"/>
<circle cx="383.9" cy="238.5" r="2.9" fill="#000"/>
<circle cx="389.2" cy="243.0" r="2.9" fill="#000"/>
<circle cx="388.2" cy="261.9" r="2.9" fill="#000"/>
<path d="M253.4 173.8V170.0H386.6V196.2M253.4 180.0V176.4H352.4V195.5" stroke="#333" stroke-width="0.9" fill="none"/>
<text x="319.8" y="170.0" font-size="8.5" font-weight="bold" text-anchor="middle" fill="#1a1a1a">*</text>
<text x="303.3" y="178.3" font-size="8.5" font-weight="bold" text-anchor="middle" fill="#1a1a1a">*</text>
<text x="412.2" y="12.9" font-size="19" font-weight="bold" fill="#000">d</text>
<text x="481.80" y="9.10" font-size="10.5" font-weight="bold" text-anchor="middle" fill="#000">CTC</text>
<circle cx="466.16" cy="33.39" r="2.7" fill="#555555"/>
<circle cx="504.68" cy="39.49" r="2.7" fill="#1f9a77"/>
<circle cx="498.26" cy="36.97" r="2.7" fill="#1f9a77"/>
<circle cx="498.26" cy="36.16" r="2.7" fill="#1f9a77"/>
<circle cx="498.26" cy="36.09" r="2.7" fill="#1f9a77"/>
<circle cx="485.42" cy="30.37" r="2.7" fill="#1f9a77"/>
<circle cx="504.68" cy="65.17" r="2.7" fill="#f8c862"/>
<circle cx="479.00" cy="58.25" r="2.7" fill="#f8c862"/>
<circle cx="498.26" cy="54.16" r="2.7" fill="#f8c862"/>
<circle cx="498.26" cy="52.27" r="2.7" fill="#f8c862"/>
<circle cx="498.26" cy="48.81" r="2.7" fill="#f8c862"/>
<circle cx="498.26" cy="47.17" r="2.7" fill="#f8c862"/>
<circle cx="498.26" cy="74.55" r="2.7" fill="#7570b3"/>
<circle cx="498.26" cy="62.46" r="2.7" fill="#7570b3"/>
<circle cx="504.68" cy="60.14" r="2.7" fill="#7570b3"/>
<circle cx="491.84" cy="55.60" r="2.7" fill="#7570b3"/>
<circle cx="491.84" cy="52.58" r="2.7" fill="#7570b3"/>
<circle cx="511.10" cy="47.93" r="2.7" fill="#7570b3"/>
<circle cx="498.26" cy="57.62" r="2.7" fill="#e4532f"/>
<circle cx="498.26" cy="44.15" r="2.7" fill="#e4532f"/>
<circle cx="491.84" cy="43.14" r="2.7" fill="#e4532f"/>
<circle cx="491.84" cy="42.58" r="2.7" fill="#e4532f"/>
<circle cx="491.84" cy="35.78" r="2.7" fill="#e4532f"/>
<circle cx="479.00" cy="34.46" r="2.7" fill="#e4532f"/>
<rect x="443.9" y="12.799999999999999" width="77.2" height="76.20" fill="none" stroke="#000" stroke-width="1.8"/>
<rect x="440.90" y="14.70" width="3" height="2.0" fill="#000"/>
<text x="439.50" y="18.50" font-size="7.9" text-anchor="end" fill="#3d3d3d">0.9</text>
<rect x="440.90" y="38.47" width="3" height="2.0" fill="#000"/>
<text x="439.50" y="42.27" font-size="7.9" text-anchor="end" fill="#3d3d3d">0.8</text>
<rect x="440.90" y="62.24" width="3" height="2.0" fill="#000"/>
<text x="439.50" y="66.04" font-size="7.9" text-anchor="end" fill="#3d3d3d">0.7</text>
<rect x="440.90" y="86.01" width="3" height="2.0" fill="#000"/>
<text x="439.50" y="89.81" font-size="7.9" text-anchor="end" fill="#3d3d3d">0.6</text>
<text x="563.70" y="9.10" font-size="10.5" font-weight="bold" text-anchor="middle" fill="#000">OXY</text>
<circle cx="541.64" cy="33.39" r="2.7" fill="#555555"/>
<circle cx="580.16" cy="48.05" r="2.7" fill="#1f9a77"/>
<circle cx="593.00" cy="39.49" r="2.7" fill="#1f9a77"/>
<circle cx="599.42" cy="36.97" r="2.7" fill="#1f9a77"/>
<circle cx="586.58" cy="36.16" r="2.7" fill="#1f9a77"/>
<circle cx="580.16" cy="36.09" r="2.7" fill="#1f9a77"/>
<circle cx="586.58" cy="30.37" r="2.7" fill="#1f9a77"/>
<circle cx="573.74" cy="65.17" r="2.7" fill="#f8c862"/>
<circle cx="548.06" cy="58.25" r="2.7" fill="#f8c862"/>
<circle cx="567.32" cy="54.16" r="2.7" fill="#f8c862"/>
<circle cx="560.90" cy="52.27" r="2.7" fill="#f8c862"/>
<circle cx="567.32" cy="48.81" r="2.7" fill="#f8c862"/>
<circle cx="567.32" cy="47.17" r="2.7" fill="#f8c862"/>
<circle cx="573.74" cy="74.55" r="2.7" fill="#7570b3"/>
<circle cx="580.16" cy="62.46" r="2.7" fill="#7570b3"/>
<circle cx="586.58" cy="60.14" r="2.7" fill="#7570b3"/>
<circle cx="573.74" cy="55.60" r="2.7" fill="#7570b3"/>
<circle cx="573.74" cy="52.58" r="2.7" fill="#7570b3"/>
<circle cx="586.58" cy="47.93" r="2.7" fill="#7570b3"/>
<circle cx="573.74" cy="57.62" r="2.7" fill="#e4532f"/>
<circle cx="567.32" cy="44.15" r="2.7" fill="#e4532f"/>
<circle cx="567.32" cy="43.14" r="2.7" fill="#e4532f"/>
<circle cx="573.74" cy="42.58" r="2.7" fill="#e4532f"/>
<circle cx="567.32" cy="35.78" r="2.7" fill="#e4532f"/>
<circle cx="567.32" cy="34.46" r="2.7" fill="#e4532f"/>
<rect x="525.8" y="12.799999999999999" width="77.2" height="76.20" fill="none" stroke="#000" stroke-width="1.8"/>
<text x="645.60" y="9.10" font-size="10.5" font-weight="bold" text-anchor="middle" fill="#000">TET</text>
<circle cx="623.54" cy="33.39" r="2.7" fill="#555555"/>
<circle cx="662.06" cy="48.05" r="2.7" fill="#1f9a77"/>
<circle cx="674.90" cy="39.49" r="2.7" fill="#1f9a77"/>
<circle cx="674.90" cy="36.97" r="2.7" fill="#1f9a77"/>
<circle cx="655.64" cy="36.16" r="2.7" fill="#1f9a77"/>
<circle cx="655.64" cy="36.09" r="2.7" fill="#1f9a77"/>
<circle cx="655.64" cy="30.37" r="2.7" fill="#1f9a77"/>
<circle cx="662.06" cy="65.17" r="2.7" fill="#f8c862"/>
<circle cx="629.96" cy="58.25" r="2.7" fill="#f8c862"/>
<circle cx="649.22" cy="54.16" r="2.7" fill="#f8c862"/>
<circle cx="649.22" cy="52.27" r="2.7" fill="#f8c862"/>
<circle cx="655.64" cy="48.81" r="2.7" fill="#f8c862"/>
<circle cx="649.22" cy="47.17" r="2.7" fill="#f8c862"/>
<circle cx="655.64" cy="74.55" r="2.7" fill="#7570b3"/>
<circle cx="668.48" cy="62.46" r="2.7" fill="#7570b3"/>
<circle cx="674.90" cy="60.14" r="2.7" fill="#7570b3"/>
<circle cx="649.22" cy="55.60" r="2.7" fill="#7570b3"/>
<circle cx="655.64" cy="52.58" r="2.7" fill="#7570b3"/>
<circle cx="674.90" cy="47.93" r="2.7" fill="#7570b3"/>
<circle cx="655.64" cy="57.62" r="2.7" fill="#e4532f"/>
<circle cx="649.22" cy="44.15" r="2.7" fill="#e4532f"/>
<circle cx="655.64" cy="43.14" r="2.7" fill="#e4532f"/>
<circle cx="649.22" cy="42.58" r="2.7" fill="#e4532f"/>
<circle cx="649.22" cy="35.78" r="2.7" fill="#e4532f"/>
<circle cx="649.22" cy="34.46" r="2.7" fill="#e4532f"/>
<rect x="607.7" y="12.799999999999999" width="77.2" height="76.20" fill="none" stroke="#000" stroke-width="1.8"/>
<text x="481.80" y="101.80" font-size="10.5" font-weight="bold" text-anchor="middle" fill="#000">MIN</text>
<circle cx="459.74" cy="126.09" r="2.7" fill="#555555"/>
<circle cx="472.58" cy="140.75" r="2.7" fill="#1f9a77"/>
<circle cx="479.00" cy="132.19" r="2.7" fill="#1f9a77"/>
<circle cx="479.00" cy="129.67" r="2.7" fill="#1f9a77"/>
<circle cx="472.58" cy="128.86" r="2.7" fill="#1f9a77"/>
<circle cx="472.58" cy="128.79" r="2.7" fill="#1f9a77"/>
<circle cx="466.16" cy="123.07" r="2.7" fill="#1f9a77"/>
<circle cx="504.68" cy="157.87" r="2.7" fill="#f8c862"/>
<circle cx="479.00" cy="150.95" r="2.7" fill="#f8c862"/>
<circle cx="511.10" cy="146.86" r="2.7" fill="#f8c862"/>
<circle cx="491.84" cy="144.97" r="2.7" fill="#f8c862"/>
<circle cx="498.26" cy="141.51" r="2.7" fill="#f8c862"/>
<circle cx="498.26" cy="139.87" r="2.7" fill="#f8c862"/>
<circle cx="472.58" cy="167.25" r="2.7" fill="#7570b3"/>
<circle cx="479.00" cy="155.16" r="2.7" fill="#7570b3"/>
<circle cx="491.84" cy="152.84" r="2.7" fill="#7570b3"/>
<circle cx="466.16" cy="148.30" r="2.7" fill="#7570b3"/>
<circle cx="485.42" cy="145.28" r="2.7" fill="#7570b3"/>
<circle cx="491.84" cy="140.63" r="2.7" fill="#7570b3"/>
<circle cx="466.16" cy="150.32" r="2.7" fill="#e4532f"/>
<circle cx="466.16" cy="136.85" r="2.7" fill="#e4532f"/>
<circle cx="466.16" cy="135.84" r="2.7" fill="#e4532f"/>
<circle cx="466.16" cy="135.28" r="2.7" fill="#e4532f"/>
<circle cx="466.16" cy="128.48" r="2.7" fill="#e4532f"/>
<circle cx="466.16" cy="127.16" r="2.7" fill="#e4532f"/>
<rect x="443.9" y="105.5" width="77.2" height="76.20" fill="none" stroke="#000" stroke-width="1.8"/>
<rect x="440.90" y="107.40" width="3" height="2.0" fill="#000"/>
<text x="439.50" y="111.20" font-size="7.9" text-anchor="end" fill="#3d3d3d">0.9</text>
<rect x="440.90" y="131.17" width="3" height="2.0" fill="#000"/>
<text x="439.50" y="134.97" font-size="7.9" text-anchor="end" fill="#3d3d3d">0.8</text>
<rect x="440.90" y="154.94" width="3" height="2.0" fill="#000"/>
<text x="439.50" y="158.74" font-size="7.9" text-anchor="end" fill="#3d3d3d">0.7</text>
<rect x="440.90" y="178.71" width="3" height="2.0" fill="#000"/>
<text x="439.50" y="182.51" font-size="7.9" text-anchor="end" fill="#3d3d3d">0.6</text>
<text x="563.70" y="101.80" font-size="10.5" font-weight="bold" text-anchor="middle" fill="#000">MET</text>
<circle cx="541.64" cy="126.09" r="2.7" fill="#555555"/>
<circle cx="580.16" cy="140.75" r="2.7" fill="#1f9a77"/>
<circle cx="586.58" cy="132.19" r="2.7" fill="#1f9a77"/>
<circle cx="593.00" cy="129.67" r="2.7" fill="#1f9a77"/>
<circle cx="573.74" cy="128.86" r="2.7" fill="#1f9a77"/>
<circle cx="573.74" cy="128.79" r="2.7" fill="#1f9a77"/>
<circle cx="573.74" cy="123.07" r="2.7" fill="#1f9a77"/>
<circle cx="580.16" cy="157.87" r="2.7" fill="#f8c862"/>
<circle cx="573.74" cy="150.95" r="2.7" fill="#f8c862"/>
<circle cx="573.74" cy="146.86" r="2.7" fill="#f8c862"/>
<circle cx="573.74" cy="144.97" r="2.7" fill="#f8c862"/>
<circle cx="573.74" cy="141.51" r="2.7" fill="#f8c862"/>
<circle cx="573.74" cy="139.87" r="2.7" fill="#f8c862"/>
<circle cx="573.74" cy="167.25" r="2.7" fill="#7570b3"/>
<circle cx="593.00" cy="155.16" r="2.7" fill="#7570b3"/>
<circle cx="593.00" cy="152.84" r="2.7" fill="#7570b3"/>
<circle cx="573.74" cy="148.30" r="2.7" fill="#7570b3"/>
<circle cx="573.74" cy="145.28" r="2.7" fill="#7570b3"/>
<circle cx="593.00" cy="140.63" r="2.7" fill="#7570b3"/>
<circle cx="554.48" cy="150.32" r="2.7" fill="#e4532f"/>
<circle cx="560.90" cy="136.85" r="2.7" fill="#e4532f"/>
<circle cx="541.64" cy="135.84" r="2.7" fill="#e4532f"/>
<circle cx="541.64" cy="135.28" r="2.7" fill="#e4532f"/>
<circle cx="560.90" cy="128.48" r="2.7" fill="#e4532f"/>
<circle cx="554.48" cy="127.16" r="2.7" fill="#e4532f"/>
<rect x="525.8" y="105.5" width="77.2" height="76.20" fill="none" stroke="#000" stroke-width="1.8"/>
<text x="645.60" y="101.80" font-size="10.5" font-weight="bold" text-anchor="middle" fill="#000">DOX</text>
<circle cx="623.54" cy="126.09" r="2.7" fill="#555555"/>
<circle cx="649.22" cy="140.75" r="2.7" fill="#1f9a77"/>
<circle cx="655.64" cy="132.19" r="2.7" fill="#1f9a77"/>
<circle cx="642.80" cy="129.67" r="2.7" fill="#1f9a77"/>
<circle cx="655.64" cy="128.86" r="2.7" fill="#1f9a77"/>
<circle cx="655.64" cy="128.79" r="2.7" fill="#1f9a77"/>
<circle cx="642.80" cy="123.07" r="2.7" fill="#1f9a77"/>
<circle cx="662.06" cy="157.87" r="2.7" fill="#f8c862"/>
<circle cx="655.64" cy="150.95" r="2.7" fill="#f8c862"/>
<circle cx="655.64" cy="146.86" r="2.7" fill="#f8c862"/>
<circle cx="655.64" cy="144.97" r="2.7" fill="#f8c862"/>
<circle cx="655.64" cy="141.51" r="2.7" fill="#f8c862"/>
<circle cx="655.64" cy="139.87" r="2.7" fill="#f8c862"/>
<circle cx="649.22" cy="167.25" r="2.7" fill="#7570b3"/>
<circle cx="655.64" cy="155.16" r="2.7" fill="#7570b3"/>
<circle cx="655.64" cy="152.84" r="2.7" fill="#7570b3"/>
<circle cx="642.80" cy="148.30" r="2.7" fill="#7570b3"/>
<circle cx="649.22" cy="145.28" r="2.7" fill="#7570b3"/>
<circle cx="668.48" cy="140.63" r="2.7" fill="#7570b3"/>
<circle cx="642.80" cy="150.32" r="2.7" fill="#e4532f"/>
<circle cx="629.96" cy="136.85" r="2.7" fill="#e4532f"/>
<circle cx="636.38" cy="135.84" r="2.7" fill="#e4532f"/>
<circle cx="636.38" cy="135.28" r="2.7" fill="#e4532f"/>
<circle cx="636.38" cy="128.48" r="2.7" fill="#e4532f"/>
<circle cx="642.80" cy="127.16" r="2.7" fill="#e4532f"/>
<rect x="607.7" y="105.5" width="77.2" height="76.20" fill="none" stroke="#000" stroke-width="1.8"/>
<text x="481.80" y="194.40" font-size="10.5" font-weight="bold" text-anchor="middle" fill="#000">TIG</text>
<circle cx="453.32" cy="218.69" r="2.7" fill="#555555"/>
<circle cx="453.32" cy="233.35" r="2.7" fill="#1f9a77"/>
<circle cx="453.32" cy="224.79" r="2.7" fill="#1f9a77"/>
<circle cx="453.32" cy="222.27" r="2.7" fill="#1f9a77"/>
<circle cx="453.32" cy="221.46" r="2.7" fill="#1f9a77"/>
<circle cx="453.32" cy="221.39" r="2.7" fill="#1f9a77"/>
<circle cx="453.32" cy="215.67" r="2.7" fill="#1f9a77"/>
<circle cx="453.32" cy="250.47" r="2.7" fill="#f8c862"/>
<circle cx="453.32" cy="243.55" r="2.7" fill="#f8c862"/>
<circle cx="453.32" cy="239.46" r="2.7" fill="#f8c862"/>
<circle cx="453.32" cy="237.57" r="2.7" fill="#f8c862"/>
<circle cx="453.32" cy="234.11" r="2.7" fill="#f8c862"/>
<circle cx="453.32" cy="232.47" r="2.7" fill="#f8c862"/>
<circle cx="459.74" cy="259.85" r="2.7" fill="#7570b3"/>
<circle cx="466.16" cy="247.76" r="2.7" fill="#7570b3"/>
<circle cx="479.00" cy="245.44" r="2.7" fill="#7570b3"/>
<circle cx="459.74" cy="240.90" r="2.7" fill="#7570b3"/>
<circle cx="472.58" cy="237.88" r="2.7" fill="#7570b3"/>
<circle cx="479.00" cy="233.23" r="2.7" fill="#7570b3"/>
<circle cx="453.32" cy="242.92" r="2.7" fill="#e4532f"/>
<circle cx="453.32" cy="229.45" r="2.7" fill="#e4532f"/>
<circle cx="453.32" cy="228.44" r="2.7" fill="#e4532f"/>
<circle cx="453.32" cy="227.88" r="2.7" fill="#e4532f"/>
<circle cx="459.74" cy="221.08" r="2.7" fill="#e4532f"/>
<circle cx="453.32" cy="219.76" r="2.7" fill="#e4532f"/>
<rect x="443.9" y="198.1" width="77.2" height="76.20" fill="none" stroke="#000" stroke-width="1.8"/>
<rect x="440.90" y="200.00" width="3" height="2.0" fill="#000"/>
<text x="439.50" y="203.80" font-size="7.9" text-anchor="end" fill="#3d3d3d">0.9</text>
<rect x="440.90" y="223.77" width="3" height="2.0" fill="#000"/>
<text x="439.50" y="227.57" font-size="7.9" text-anchor="end" fill="#3d3d3d">0.8</text>
<rect x="440.90" y="247.54" width="3" height="2.0" fill="#000"/>
<text x="439.50" y="251.34" font-size="7.9" text-anchor="end" fill="#3d3d3d">0.7</text>
<rect x="440.90" y="271.31" width="3" height="2.0" fill="#000"/>
<text x="439.50" y="275.11" font-size="7.9" text-anchor="end" fill="#3d3d3d">0.6</text>
<rect x="446.00" y="274.3" width="1.8" height="3.5" fill="#000"/>
<text transform="translate(449.20,282.2) rotate(-90)" font-size="6.6" text-anchor="end" fill="#111">0.25</text>
<rect x="452.42" y="274.3" width="1.8" height="3.5" fill="#000"/>
<text transform="translate(455.62,282.2) rotate(-90)" font-size="6.6" text-anchor="end" fill="#111">0.5</text>
<rect x="458.84" y="274.3" width="1.8" height="3.5" fill="#000"/>
<text transform="translate(462.04,282.2) rotate(-90)" font-size="6.6" text-anchor="end" fill="#111">1</text>
<rect x="465.26" y="274.3" width="1.8" height="3.5" fill="#000"/>
<text transform="translate(468.46,282.2) rotate(-90)" font-size="6.6" text-anchor="end" fill="#111">2</text>
<rect x="471.68" y="274.3" width="1.8" height="3.5" fill="#000"/>
<text transform="translate(474.88,282.2) rotate(-90)" font-size="6.6" text-anchor="end" fill="#111">4</text>
<rect x="478.10" y="274.3" width="1.8" height="3.5" fill="#000"/>
<text transform="translate(481.30,282.2) rotate(-90)" font-size="6.6" text-anchor="end" fill="#111">8</text>
<rect x="484.52" y="274.3" width="1.8" height="3.5" fill="#000"/>
<text transform="translate(487.72,282.2) rotate(-90)" font-size="6.6" text-anchor="end" fill="#111">16</text>
<rect x="490.94" y="274.3" width="1.8" height="3.5" fill="#000"/>
<text transform="translate(494.14,282.2) rotate(-90)" font-size="6.6" text-anchor="end" fill="#111">32</text>
<rect x="497.36" y="274.3" width="1.8" height="3.5" fill="#000"/>
<text transform="translate(500.56,282.2) rotate(-90)" font-size="6.6" text-anchor="end" fill="#111">64</text>
<rect x="503.78" y="274.3" width="1.8" height="3.5" fill="#000"/>
<text transform="translate(506.98,282.2) rotate(-90)" font-size="6.6" text-anchor="end" fill="#111">128</text>
<rect x="510.20" y="274.3" width="1.8" height="3.5" fill="#000"/>
<text transform="translate(513.40,282.2) rotate(-90)" font-size="6.6" text-anchor="end" fill="#111">256</text>
<rect x="516.62" y="274.3" width="1.8" height="3.5" fill="#000"/>
<text transform="translate(519.82,282.2) rotate(-90)" font-size="6.6" text-anchor="end" fill="#111">512</text>
<text x="563.70" y="194.40" font-size="10.5" font-weight="bold" text-anchor="middle" fill="#000">OMA</text>
<circle cx="548.06" cy="218.69" r="2.7" fill="#555555"/>
<circle cx="548.06" cy="233.35" r="2.7" fill="#1f9a77"/>
<circle cx="554.48" cy="224.79" r="2.7" fill="#1f9a77"/>
<circle cx="548.06" cy="222.27" r="2.7" fill="#1f9a77"/>
<circle cx="548.06" cy="221.46" r="2.7" fill="#1f9a77"/>
<circle cx="548.06" cy="221.39" r="2.7" fill="#1f9a77"/>
<circle cx="548.06" cy="215.67" r="2.7" fill="#1f9a77"/>
<circle cx="548.06" cy="250.47" r="2.7" fill="#f8c862"/>
<circle cx="548.06" cy="243.55" r="2.7" fill="#f8c862"/>
<circle cx="548.06" cy="239.46" r="2.7" fill="#f8c862"/>
<circle cx="548.06" cy="237.57" r="2.7" fill="#f8c862"/>
<circle cx="548.06" cy="234.11" r="2.7" fill="#f8c862"/>
<circle cx="548.06" cy="232.47" r="2.7" fill="#f8c862"/>
<circle cx="560.90" cy="259.85" r="2.7" fill="#7570b3"/>
<circle cx="573.74" cy="247.76" r="2.7" fill="#7570b3"/>
<circle cx="580.16" cy="245.44" r="2.7" fill="#7570b3"/>
<circle cx="554.48" cy="240.90" r="2.7" fill="#7570b3"/>
<circle cx="567.32" cy="237.88" r="2.7" fill="#7570b3"/>
<circle cx="580.16" cy="233.23" r="2.7" fill="#7570b3"/>
<circle cx="548.06" cy="242.92" r="2.7" fill="#e4532f"/>
<circle cx="548.06" cy="229.45" r="2.7" fill="#e4532f"/>
<circle cx="548.06" cy="228.44" r="2.7" fill="#e4532f"/>
<circle cx="548.06" cy="227.88" r="2.7" fill="#e4532f"/>
<circle cx="548.06" cy="221.08" r="2.7" fill="#e4532f"/>
<circle cx="548.06" cy="219.76" r="2.7" fill="#e4532f"/>
<rect x="525.8" y="198.1" width="77.2" height="76.20" fill="none" stroke="#000" stroke-width="1.8"/>
<rect x="527.90" y="274.3" width="1.8" height="3.5" fill="#000"/>
<text transform="translate(531.10,282.2) rotate(-90)" font-size="6.6" text-anchor="end" fill="#111">0.25</text>
<rect x="534.32" y="274.3" width="1.8" height="3.5" fill="#000"/>
<text transform="translate(537.52,282.2) rotate(-90)" font-size="6.6" text-anchor="end" fill="#111">0.5</text>
<rect x="540.74" y="274.3" width="1.8" height="3.5" fill="#000"/>
<text transform="translate(543.94,282.2) rotate(-90)" font-size="6.6" text-anchor="end" fill="#111">1</text>
<rect x="547.16" y="274.3" width="1.8" height="3.5" fill="#000"/>
<text transform="translate(550.36,282.2) rotate(-90)" font-size="6.6" text-anchor="end" fill="#111">2</text>
<rect x="553.58" y="274.3" width="1.8" height="3.5" fill="#000"/>
<text transform="translate(556.78,282.2) rotate(-90)" font-size="6.6" text-anchor="end" fill="#111">4</text>
<rect x="560.00" y="274.3" width="1.8" height="3.5" fill="#000"/>
<text transform="translate(563.20,282.2) rotate(-90)" font-size="6.6" text-anchor="end" fill="#111">8</text>
<rect x="566.42" y="274.3" width="1.8" height="3.5" fill="#000"/>
<text transform="translate(569.62,282.2) rotate(-90)" font-size="6.6" text-anchor="end" fill="#111">16</text>
<rect x="572.84" y="274.3" width="1.8" height="3.5" fill="#000"/>
<text transform="translate(576.04,282.2) rotate(-90)" font-size="6.6" text-anchor="end" fill="#111">32</text>
<rect x="579.26" y="274.3" width="1.8" height="3.5" fill="#000"/>
<text transform="translate(582.46,282.2) rotate(-90)" font-size="6.6" text-anchor="end" fill="#111">64</text>
<rect x="585.68" y="274.3" width="1.8" height="3.5" fill="#000"/>
<text transform="translate(588.88,282.2) rotate(-90)" font-size="6.6" text-anchor="end" fill="#111">128</text>
<rect x="592.10" y="274.3" width="1.8" height="3.5" fill="#000"/>
<text transform="translate(595.30,282.2) rotate(-90)" font-size="6.6" text-anchor="end" fill="#111">256</text>
<rect x="598.52" y="274.3" width="1.8" height="3.5" fill="#000"/>
<text transform="translate(601.72,282.2) rotate(-90)" font-size="6.6" text-anchor="end" fill="#111">512</text>
<text x="645.60" y="194.40" font-size="10.5" font-weight="bold" text-anchor="middle" fill="#000">ERA</text>
<circle cx="610.70" cy="218.69" r="2.7" fill="#555555"/>
<circle cx="610.70" cy="233.35" r="2.7" fill="#1f9a77"/>
<circle cx="617.12" cy="224.79" r="2.7" fill="#1f9a77"/>
<circle cx="617.12" cy="222.27" r="2.7" fill="#1f9a77"/>
<circle cx="617.12" cy="221.46" r="2.7" fill="#1f9a77"/>
<circle cx="617.12" cy="221.39" r="2.7" fill="#1f9a77"/>
<circle cx="610.70" cy="215.67" r="2.7" fill="#1f9a77"/>
<circle cx="610.70" cy="250.47" r="2.7" fill="#f8c862"/>
<circle cx="610.70" cy="243.55" r="2.7" fill="#f8c862"/>
<circle cx="610.70" cy="239.46" r="2.7" fill="#f8c862"/>
<circle cx="610.70" cy="237.57" r="2.7" fill="#f8c862"/>
<circle cx="610.70" cy="234.11" r="2.7" fill="#f8c862"/>
<circle cx="610.70" cy="232.47" r="2.7" fill="#f8c862"/>
<circle cx="629.96" cy="259.85" r="2.7" fill="#7570b3"/>
<circle cx="636.38" cy="247.76" r="2.7" fill="#7570b3"/>
<circle cx="636.38" cy="245.44" r="2.7" fill="#7570b3"/>
<circle cx="623.54" cy="240.90" r="2.7" fill="#7570b3"/>
<circle cx="636.38" cy="237.88" r="2.7" fill="#7570b3"/>
<circle cx="636.38" cy="233.23" r="2.7" fill="#7570b3"/>
<circle cx="610.70" cy="242.92" r="2.7" fill="#e4532f"/>
<circle cx="610.70" cy="229.45" r="2.7" fill="#e4532f"/>
<circle cx="610.70" cy="228.44" r="2.7" fill="#e4532f"/>
<circle cx="610.70" cy="227.88" r="2.7" fill="#e4532f"/>
<circle cx="610.70" cy="221.08" r="2.7" fill="#e4532f"/>
<circle cx="610.70" cy="219.76" r="2.7" fill="#e4532f"/>
<rect x="607.7" y="198.1" width="77.2" height="76.20" fill="none" stroke="#000" stroke-width="1.8"/>
<rect x="609.80" y="274.3" width="1.8" height="3.5" fill="#000"/>
<text transform="translate(613.00,282.2) rotate(-90)" font-size="6.6" text-anchor="end" fill="#111">0.25</text>
<rect x="616.22" y="274.3" width="1.8" height="3.5" fill="#000"/>
<text transform="translate(619.42,282.2) rotate(-90)" font-size="6.6" text-anchor="end" fill="#111">0.5</text>
<rect x="622.64" y="274.3" width="1.8" height="3.5" fill="#000"/>
<text transform="translate(625.84,282.2) rotate(-90)" font-size="6.6" text-anchor="end" fill="#111">1</text>
<rect x="629.06" y="274.3" width="1.8" height="3.5" fill="#000"/>
<text transform="translate(632.26,282.2) rotate(-90)" font-size="6.6" text-anchor="end" fill="#111">2</text>
<rect x="635.48" y="274.3" width="1.8" height="3.5" fill="#000"/>
<text transform="translate(638.68,282.2) rotate(-90)" font-size="6.6" text-anchor="end" fill="#111">4</text>
<rect x="641.90" y="274.3" width="1.8" height="3.5" fill="#000"/>
<text transform="translate(645.10,282.2) rotate(-90)" font-size="6.6" text-anchor="end" fill="#111">8</text>
<rect x="648.32" y="274.3" width="1.8" height="3.5" fill="#000"/>
<text transform="translate(651.52,282.2) rotate(-90)" font-size="6.6" text-anchor="end" fill="#111">16</text>
<rect x="654.74" y="274.3" width="1.8" height="3.5" fill="#000"/>
<text transform="translate(657.94,282.2) rotate(-90)" font-size="6.6" text-anchor="end" fill="#111">32</text>
<rect x="661.16" y="274.3" width="1.8" height="3.5" fill="#000"/>
<text transform="translate(664.36,282.2) rotate(-90)" font-size="6.6" text-anchor="end" fill="#111">64</text>
<rect x="667.58" y="274.3" width="1.8" height="3.5" fill="#000"/>
<text transform="translate(670.78,282.2) rotate(-90)" font-size="6.6" text-anchor="end" fill="#111">128</text>
<rect x="674.00" y="274.3" width="1.8" height="3.5" fill="#000"/>
<text transform="translate(677.20,282.2) rotate(-90)" font-size="6.6" text-anchor="end" fill="#111">256</text>
<rect x="680.42" y="274.3" width="1.8" height="3.5" fill="#000"/>
<text transform="translate(683.62,282.2) rotate(-90)" font-size="6.6" text-anchor="end" fill="#111">512</text>
<text transform="translate(426.0,182.5) rotate(-90)" font-size="10.08" font-weight="bold" fill="#000">growth rate (h<tspan font-size="6.5" dy="-3.5">-1</tspan><tspan dy="3.5">)</tspan></text>
<text x="532.6" y="312.5" font-size="10.3" font-weight="bold" fill="#000">MIC (µg/mL )</text>
</svg>
</body></html>
